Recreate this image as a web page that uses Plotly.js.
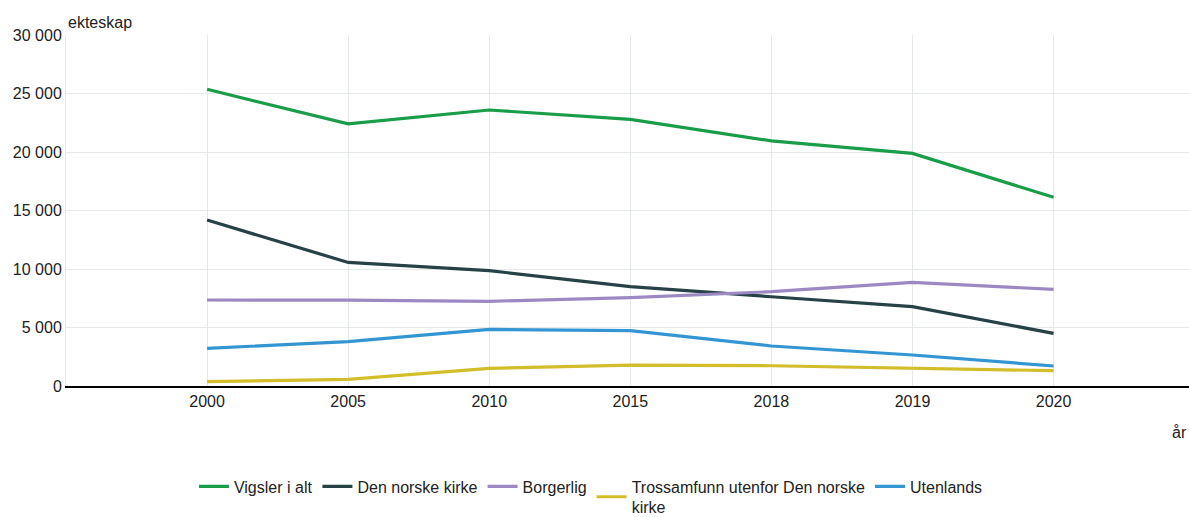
<!DOCTYPE html>
<html>
<head>
<meta charset="utf-8">
<script src="https://cdn.plot.ly/plotly-3.0.1.min.js"></script>
<style>html,body{margin:0;padding:0;background:#fff;}#chart{width:1189px;height:517px;}</style>
</head>
<body>
<div id="chart"></div>
<script>
const years = ["2000", "2005", "2010", "2015", "2018", "2019", "2020"];
const seriesNames = ["Vigsler i alt", "Den norske kirke", "Borgerlig", "Trossamfunn utenfor Den norske<br>kirke", "Utenlands"];
const vigslerIAlt = [25360, 22400, 23590, 22790, 20950, 19880, 16130];
const denNorskeKirke = [14190, 10560, 9860, 8490, 7630, 6780, 4500];
const borgerlig = [7350, 7340, 7240, 7550, 8060, 8860, 8260];
const trossamfunn = [370, 570, 1510, 1790, 1730, 1510, 1310];
const utenlands = [3220, 3790, 4840, 4740, 3420, 2650, 1710];
const colors = ["#1a9d49", "#274247", "#9c89c4", "#d4bd2a", "#3396d2"];

const data = [vigslerIAlt, denNorskeKirke, borgerlig, trossamfunn, utenlands].map((v, i) => ({
  type: "scatter", mode: "lines", x: years, y: v, name: seriesNames[i],
  line: {color: colors[i], width: 3.2}
}));

const layout = {
  width: 1189, height: 517,
  margin: {l: 66, r: 0, t: 35, b: 131, autoexpand: false},
  paper_bgcolor: "#fff", plot_bgcolor: "#fff",
  separators: ", ",
  font: {family: "Liberation Sans, Arial, sans-serif", size: 16, color: "#222"},
  showlegend: true,
  legend: {orientation: "h", xref: "container", yref: "container", x: 0.497, xanchor: "center",
           y: 0.092, yanchor: "top",
           font: {size: 16, color: "#222"}, tracegroupgap: 0},
  xaxis: {type: "category", range: [-1, 6.96], showgrid: true, gridcolor: "#e6e9ea",
          showline: true, linecolor: "#000", linewidth: 1.5, ticks: "", fixedrange: true,
          tickfont: {size: 16, color: "#222"}},
  yaxis: {range: [0, 30000], dtick: 5000, tickformat: ",d", showgrid: true, gridcolor: "#e6e9ea",
          zeroline: false, showline: true, linecolor: "#e6e9ea", linewidth: 1, ticks: "",
          tickfont: {size: 16, color: "#222"}},
  annotations: [
    {text: "ekteskap", xref: "paper", yref: "paper", x: 0, y: 1, xanchor: "left", yanchor: "bottom",
     yshift: 2, xshift: 0, showarrow: false, font: {size: 16, color: "#222"}},
    {text: "år", xref: "paper", yref: "paper", x: 1, y: 0, xanchor: "right", yanchor: "top",
     xshift: 0, yshift: -36, showarrow: false, font: {size: 16, color: "#222"}}
  ]
};
Plotly.newPlot("chart", data, layout, {displayModeBar: false, responsive: false});
</script>
</body>
</html>
